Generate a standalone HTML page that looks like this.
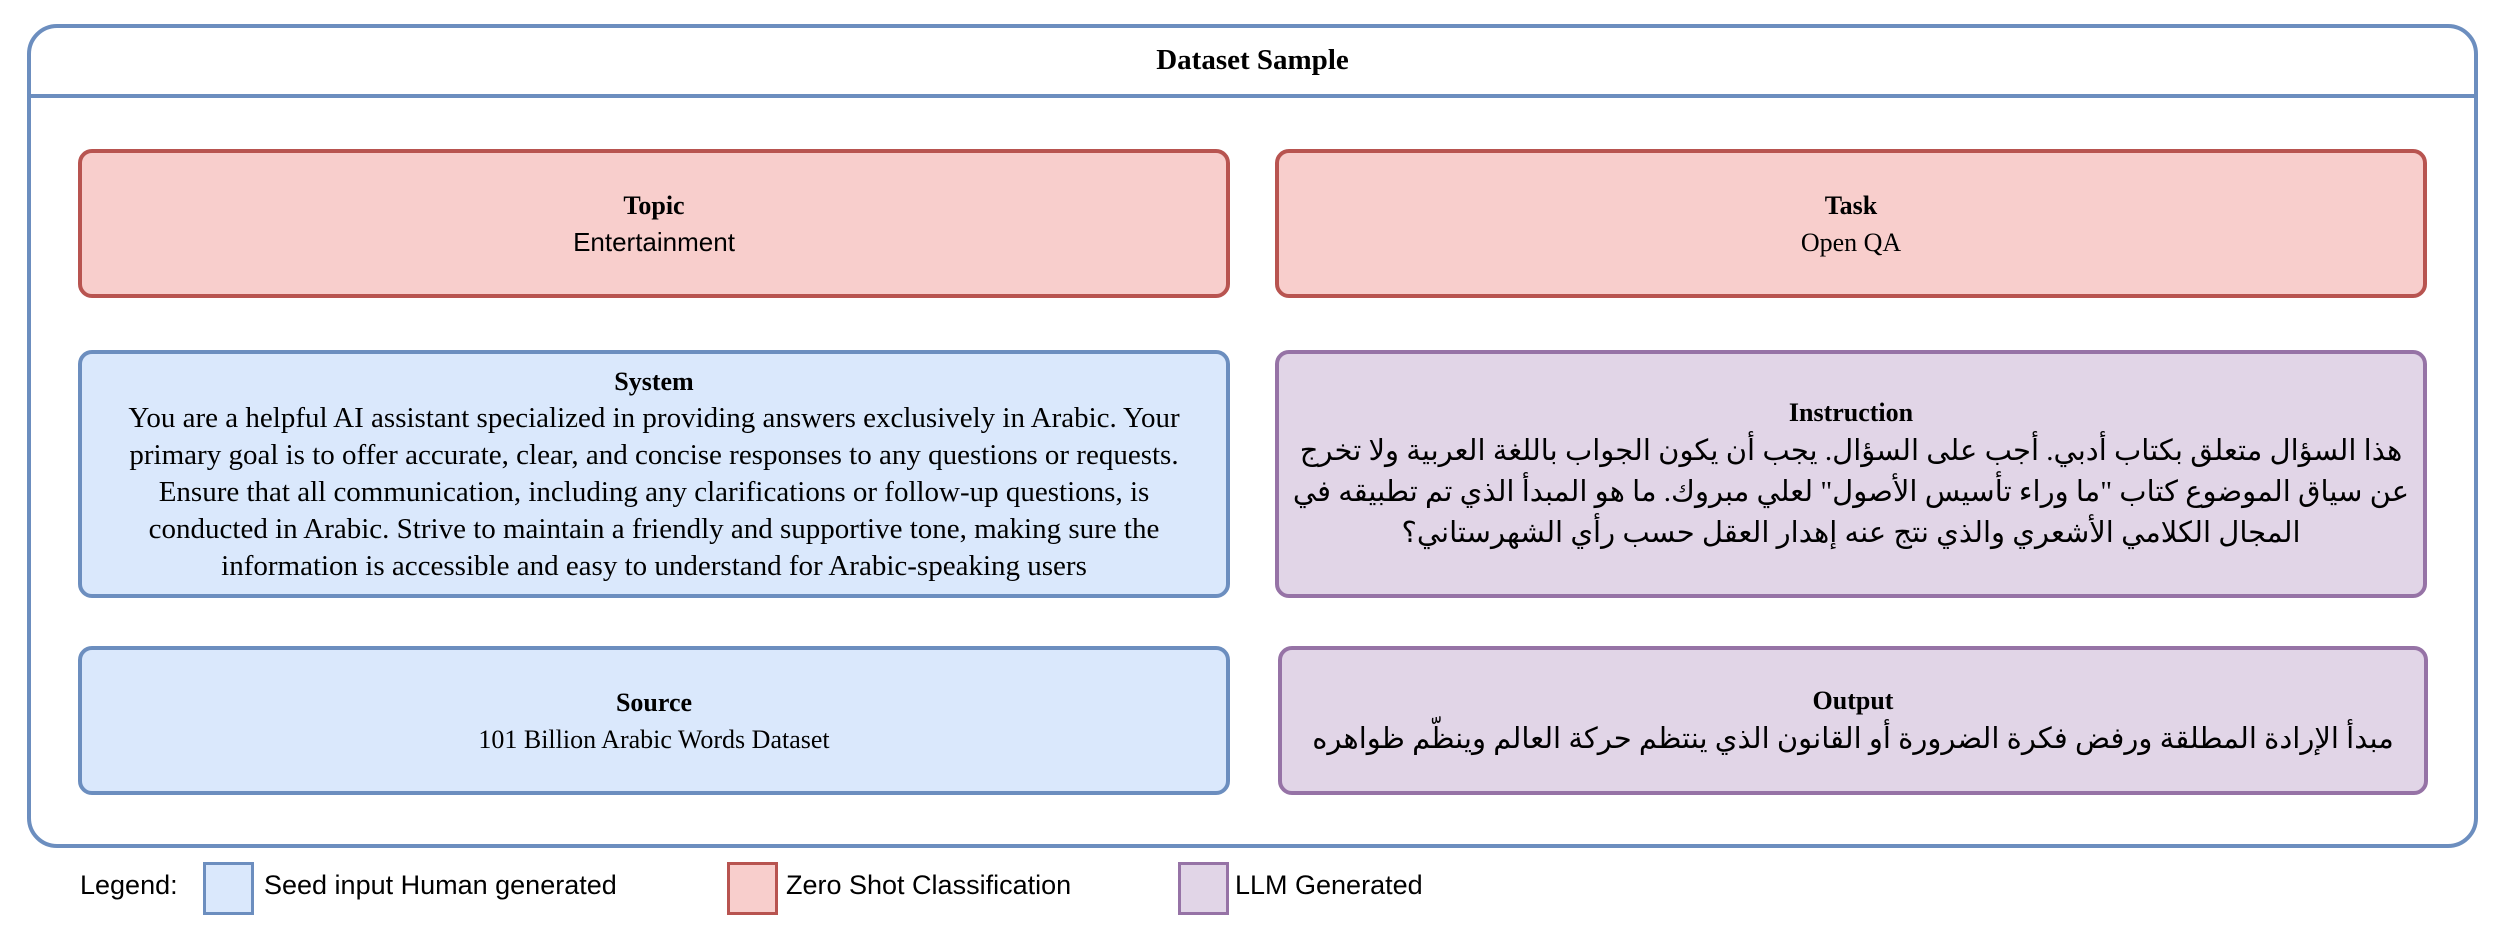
<!DOCTYPE html>
<html><head><meta charset="utf-8"><style>
body{margin:0;width:2506px;height:930px;background:#fff;position:relative;overflow:hidden;font-family:"Liberation Serif",serif;color:#000}
.b{position:absolute;box-sizing:border-box;border-radius:14px;border:4px solid;display:flex;align-items:center;justify-content:center;text-align:center;font-size:26px;line-height:37px}
.bl{background:#dae8fc;border-color:#6c8ebf}
.rd{background:#f8cecc;border-color:#b85450}
.pu{background:#e1d5e7;border-color:#9673a6}
.ar{font-family:"Liberation Serif","DejaVu Sans",serif;font-size:29px;line-height:41px;display:block;white-space:nowrap}
.sans{font-family:"Liberation Sans",sans-serif}
.lg{position:absolute;font-family:"Liberation Sans",sans-serif;font-size:27px;top:870px}
.lb{position:absolute;top:862px;width:51px;height:53px;box-sizing:border-box;border:3px solid}
</style></head><body>
<div style="position:absolute;left:27px;top:24px;width:2451px;height:824px;box-sizing:border-box;border:4px solid #6c8ebf;border-radius:30px"></div>
<div style="position:absolute;left:29px;top:94px;width:2447px;height:4px;background:#6c8ebf"></div>
<div style="position:absolute;left:27px;width:2451px;top:44px;text-align:center;font-weight:bold;font-size:29px">Dataset Sample</div>

<div class="b rd" style="left:78px;top:149px;width:1152px;height:149px"><div><b>Topic</b><br><span class="sans">Entertainment</span></div></div>
<div class="b rd" style="left:1275px;top:149px;width:1152px;height:149px"><div><b>Task</b><br>Open QA</div></div>

<div class="b bl" style="left:78px;top:350px;width:1152px;height:248px"><div style="width:1090px"><b>System</b><br><span style="font-size:29px">You are a helpful AI assistant specialized in providing answers exclusively in Arabic. Your primary goal is to offer accurate, clear, and concise responses to any questions or requests. Ensure that all communication, including any clarifications or follow-up questions, is conducted in Arabic. Strive to maintain a friendly and supportive tone, making sure the information is accessible and easy to understand for Arabic-speaking users</span></div></div>
<div class="b pu" style="left:1275px;top:350px;width:1152px;height:248px"><div style="width:1120px"><b>Instruction</b><span class="ar" dir="rtl">هذا السؤال متعلق بكتاب أدبي. أجب على السؤال. يجب أن يكون الجواب باللغة العربية ولا تخرج<br>عن سياق الموضوع كتاب "ما وراء تأسيس الأصول" لعلي مبروك. ما هو المبدأ الذي تم تطبيقه في<br>المجال الكلامي الأشعري والذي نتج عنه إهدار العقل حسب رأي الشهرستاني؟</span></div></div>

<div class="b bl" style="left:78px;top:646px;width:1152px;height:149px"><div><b>Source</b><br>101 Billion Arabic Words Dataset</div></div>
<div class="b pu" style="left:1278px;top:646px;width:1150px;height:149px"><div style="width:1120px"><b>Output</b><span class="ar" dir="rtl">مبدأ الإرادة المطلقة ورفض فكرة الضرورة أو القانون الذي ينتظم حركة العالم وينظّم ظواهره</span></div></div>

<div class="lg" style="left:80px">Legend:</div>
<div class="lb" style="left:203px;background:#dae8fc;border-color:#6c8ebf"></div>
<div class="lg" style="left:264px">Seed input Human generated</div>
<div class="lb" style="left:727px;background:#f8cecc;border-color:#b85450"></div>
<div class="lg" style="left:786px">Zero Shot Classification</div>
<div class="lb" style="left:1178px;background:#e1d5e7;border-color:#9673a6"></div>
<div class="lg" style="left:1235px">LLM Generated</div>
</body></html>
